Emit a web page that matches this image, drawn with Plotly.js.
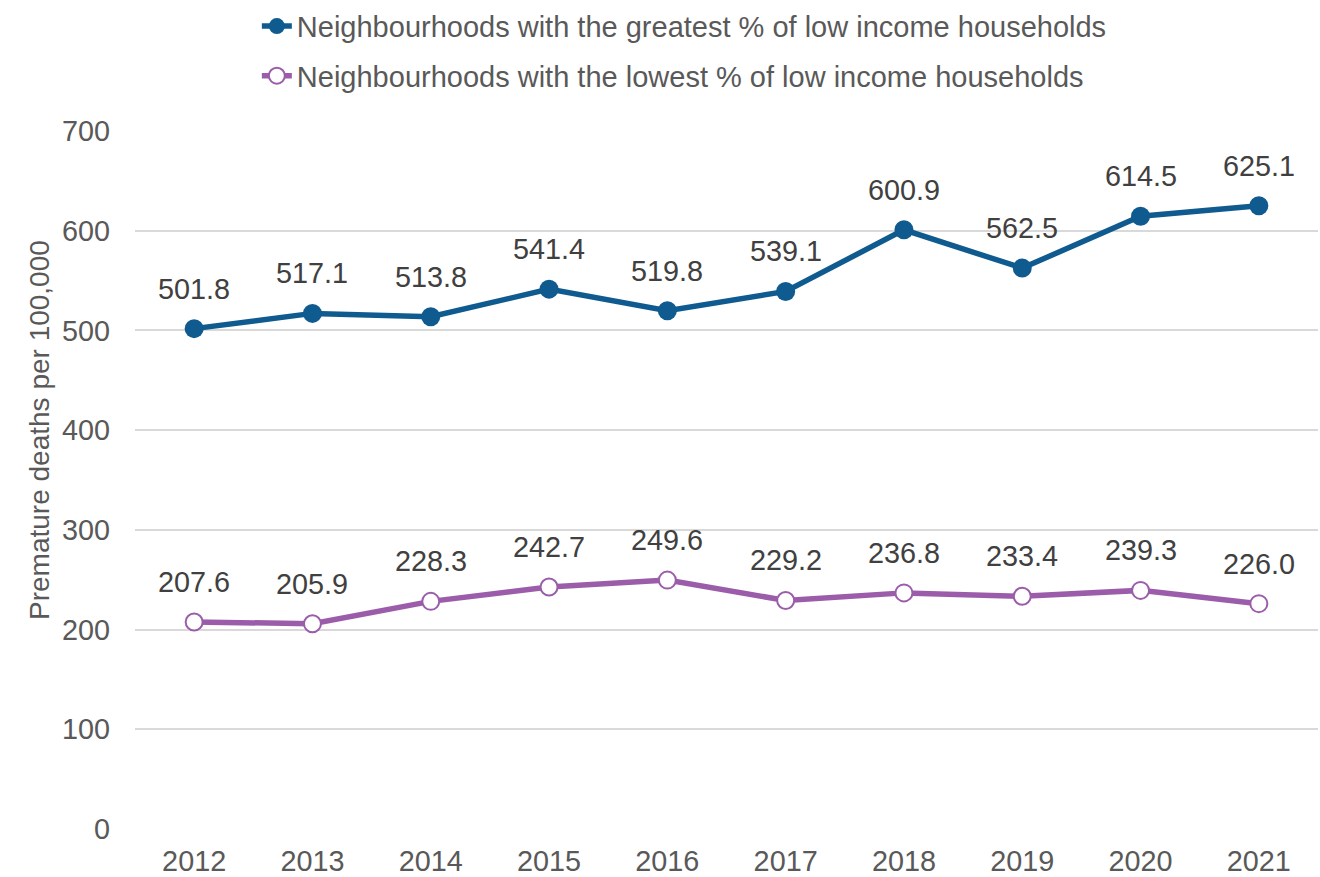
<!DOCTYPE html>
<html>
<head>
<meta charset="utf-8">
<script src="https://cdn.plot.ly/plotly-3.0.1.min.js"></script>
<style>html,body{margin:0;padding:0;background:#fff;}#chart{width:1320px;height:877px;}</style>
</head>
<body>
<div id="chart"></div>
<script>
const years = ['2012','2013','2014','2015','2016','2017','2018','2019','2020','2021'];
const greatest = [501.8, 517.1, 513.8, 541.4, 519.8, 539.1, 600.9, 562.5, 614.5, 625.1];
const lowest = [207.6, 205.9, 228.3, 242.7, 249.6, 229.2, 236.8, 233.4, 239.3, 226.0];
const nameGreatest = 'Neighbourhoods with the greatest % of low income households';
const nameLowest = 'Neighbourhoods with the lowest % of low income households';
const yTicks = [0, 100, 200, 300, 400, 500, 600, 700];

const FONT = 'Liberation Sans, Arial, sans-serif';
const FS = 28.8;
const BLUE = '#0F5A8E';
const PURPLE = '#9B5DAA';

const traces = [
  {
    x: years, y: greatest, name: nameGreatest, type: 'scatter', mode: 'lines+markers',
    legendgroup: 'g1',
    line: {color: BLUE, width: 5.5},
    marker: {color: BLUE, size: 19, line: {color: BLUE, width: 0}},
    hoverinfo: 'skip'
  },
  {
    x: years, y: lowest, name: nameLowest, type: 'scatter', mode: 'lines+markers',
    legendgroup: 'g2',
    line: {color: PURPLE, width: 5.5},
    marker: {color: '#ffffff', size: 17, line: {color: PURPLE, width: 2}},
    hoverinfo: 'skip'
  }
];

const annotations = [];
[greatest, lowest].forEach(series => {
  series.forEach((v, i) => {
    annotations.push({
      x: i, y: v, xref: 'x', yref: 'y', text: v.toFixed(1),
      showarrow: false, yshift: 40,
      font: {family: FONT, size: FS, color: '#404040'}
    });
  });
});
annotations.push({
  x: -0.0955, y: 0.571, xref: 'paper', yref: 'paper',
  text: 'Premature deaths per 100,000', textangle: -90, showarrow: false,
  font: {family: FONT, size: 28, color: '#595959'}
});

const layout = {
  width: 1320, height: 877,
  margin: {l: 135, r: 2, t: 130, b: 48},
  paper_bgcolor: '#ffffff', plot_bgcolor: '#ffffff',
  font: {family: FONT, color: '#595959'},
  showlegend: true,
  legend: {
    x: 0.103, xanchor: 'left', y: 1.185, yanchor: 'top',
    orientation: 'v', traceorder: 'grouped', tracegroupgap: 9,
    font: {family: FONT, size: 29, color: '#595959'},
    bgcolor: 'rgba(0,0,0,0)'
  },
  xaxis: {
    type: 'category', tickvals: years, ticktext: years,
    showgrid: false, zeroline: false, showline: false, ticks: '',
    ticklabelstandoff: 12,
    tickfont: {family: FONT, size: FS, color: '#595959'},
    range: [-0.5, 9.5], fixedrange: true
  },
  yaxis: {
    range: [0, 700], tickvals: yTicks, ticktext: yTicks.map(String),
    showgrid: true, gridcolor: '#D9D9D9', gridwidth: 2,
    zeroline: false, showline: false, ticks: '',
    ticklabelstandoff: 24,
    tickfont: {family: FONT, size: FS, color: '#595959'},
    fixedrange: true
  },
  annotations: annotations
};

Plotly.newPlot('chart', traces, layout, {displayModeBar: false, staticPlot: true});
</script>
</body>
</html>
